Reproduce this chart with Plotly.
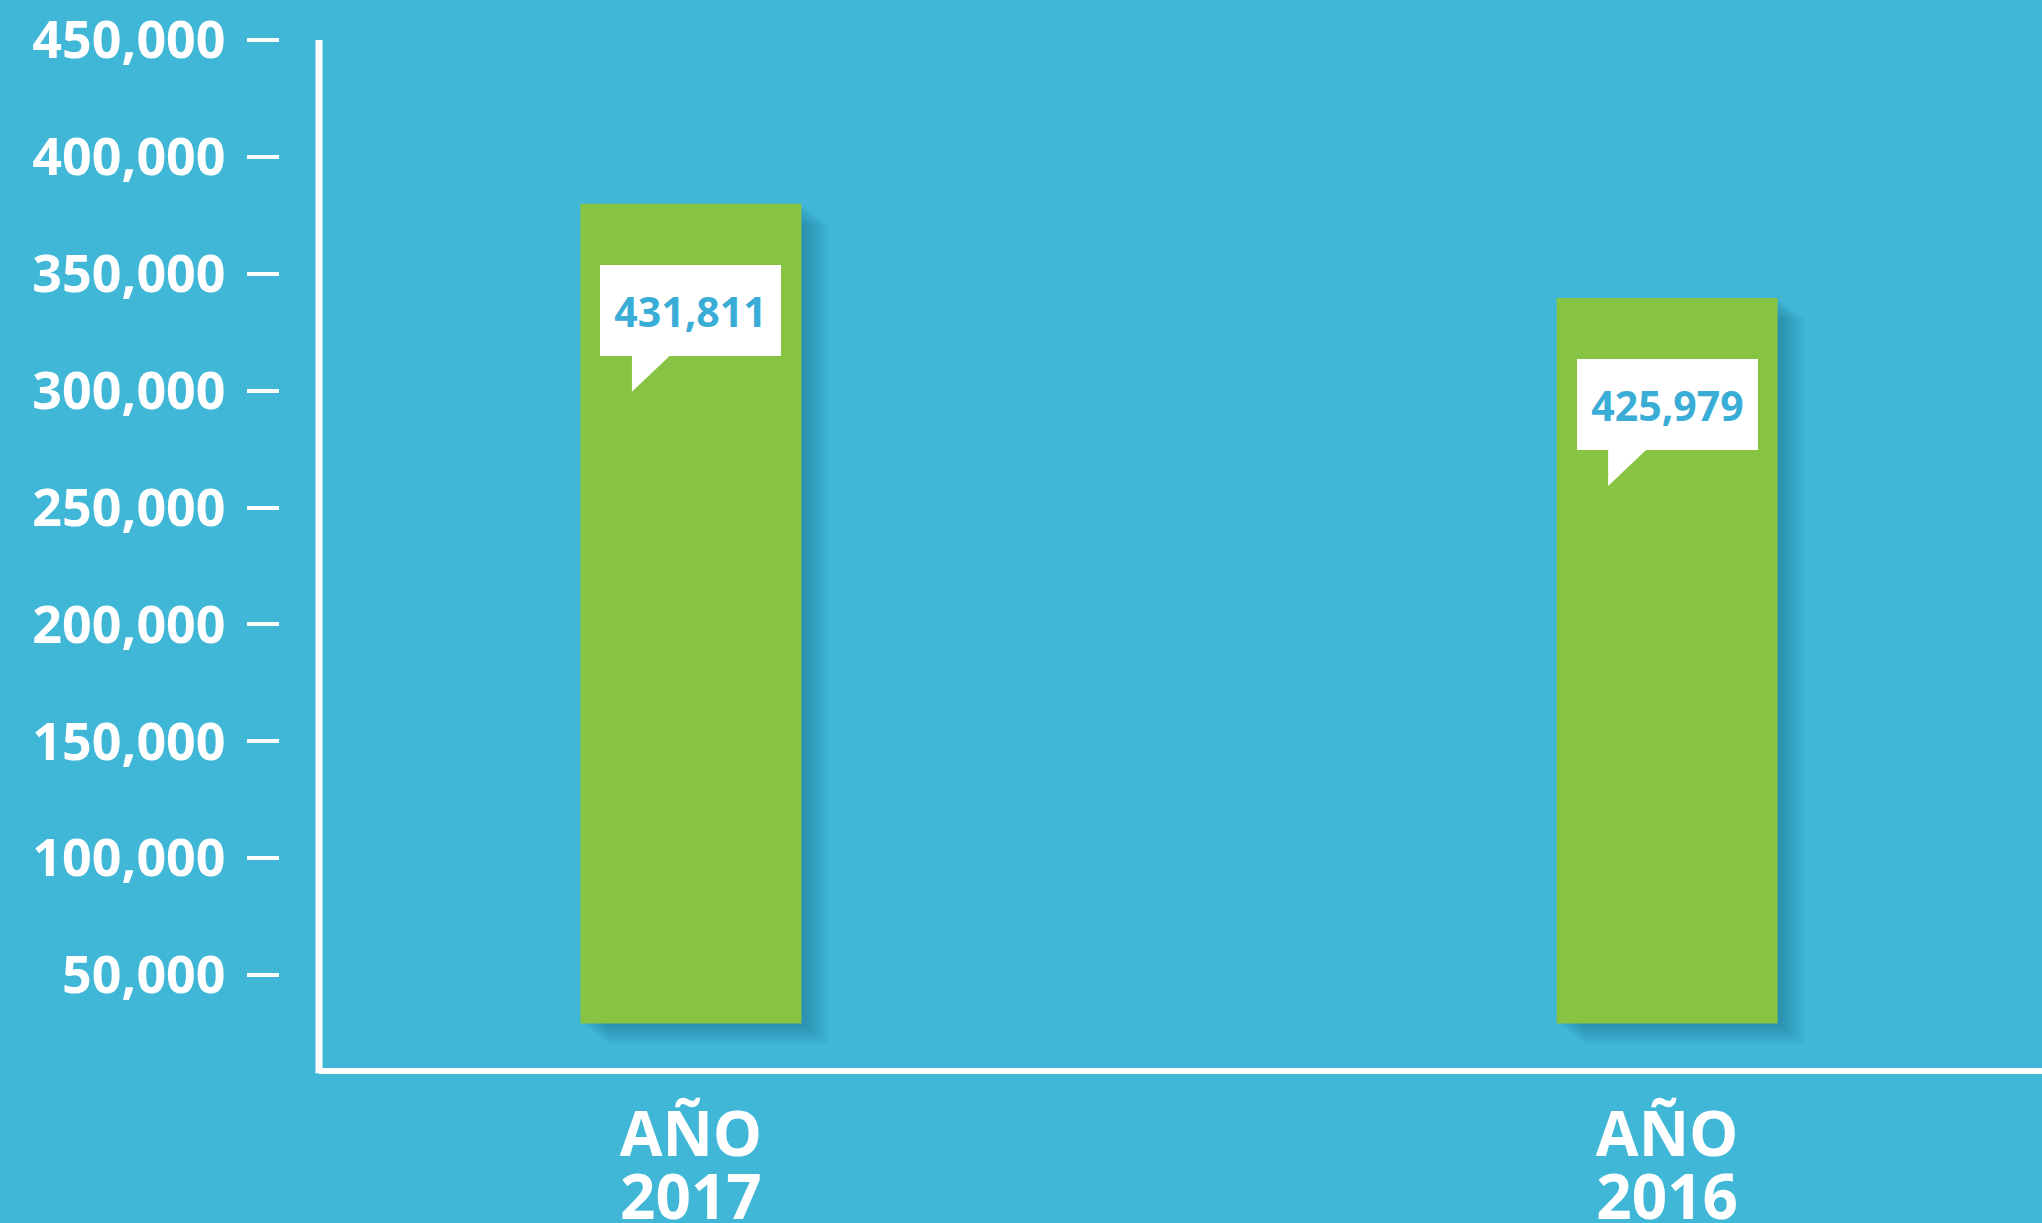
import plotly.graph_objects as go

# ---- data ----
years = ["2017", "2016"]
label_word = "AÑO"
reported_totals = [431811, 425979]          # numbers printed in the callouts
bar_tops = [380000, 339700]                 # where each bar ends on the drawn axis
bar_bases = [29300, 29300]                  # where each bar starts on the drawn axis
y_ticks = [50000, 100000, 150000, 200000, 250000, 300000, 350000, 400000, 450000]

# ---- styling ----
BG = "#41b7d7"
GREEN = "#87c443"
CALLOUT_TXT = "#3aadd6"
W, H = 2042, 1223
PLOT_LEFT = 319
PLOT_TOP, PLOT_BOTTOM = 40, 1068
X_RANGE = [-0.381, 1.384]
Y_RANGE = [10300, 450000]
PX_PER_X = (W - PLOT_LEFT) / (X_RANGE[1] - X_RANGE[0])
Y_PER_PX = (Y_RANGE[1] - Y_RANGE[0]) / (PLOT_BOTTOM - PLOT_TOP)
BAR_W = 221 / PX_PER_X

xpos = list(range(len(years)))

fig = go.Figure()

# soft drop shadow: translucent copies shifted right / down
for s in [3, 6, 9, 12, 15, 18, 21, 24, 27]:
    sy = s * 0.75
    fig.add_trace(go.Bar(
        x=xpos,
        base=[b - sy * Y_PER_PX for b in bar_bases],
        y=[t - b for t, b in zip(bar_tops, bar_bases)],
        width=[BAR_W] * len(years),
        offset=[-BAR_W / 2 + s / PX_PER_X] * len(years),
        marker=dict(color="rgba(10,50,80,0.035)", line=dict(width=0)),
        hoverinfo="skip", showlegend=False,
    ))

fig.add_trace(go.Bar(
    x=xpos,
    base=bar_bases,
    y=[t - b for t, b in zip(bar_tops, bar_bases)],
    width=[BAR_W] * len(years),
    offset=[-BAR_W / 2] * len(years),
    marker=dict(color=GREEN, line=dict(width=0)),
    showlegend=False,
))

# invisible trace so the second x axis (year line of the labels) is drawn
fig.add_trace(go.Scatter(x=xpos, y=[None] * len(years), xaxis="x2",
                         mode="markers", hoverinfo="skip", showlegend=False))

shapes = []
annotations = []
tail_path = "M -59,-150 L -19,-150 L -59,-188 Z"
for xi, top, val in zip(xpos, bar_tops, reported_totals):
    shapes.append(dict(
        type="path", xref="x", yref="y", xsizemode="pixel", ysizemode="pixel",
        xanchor=xi, yanchor=top, path=tail_path,
        fillcolor="white", line=dict(width=0), layer="above",
    ))
    annotations.append(dict(
        x=xi, y=top, xref="x", yref="y", text=f"{val:,}", showarrow=False,
        xanchor="center", yanchor="middle", yshift=-107, xshift=0,
        width=181, height=91, bgcolor="white", borderpad=0, borderwidth=0,
        align="center", valign="middle",
        font=dict(family="Open Sans", size=41, color=CALLOUT_TXT, weight="bold"),
    ))

# vertical axis line
shapes.append(dict(type="line", xref="x domain", yref="y domain",
                   x0=0, x1=0, y0=-0.005, y1=1,
                   line=dict(color="white", width=7), layer="above"))

label_font = dict(family="Open Sans", size=62, color="white", weight="bold")

fig.update_layout(
    width=W, height=H,
    paper_bgcolor=BG, plot_bgcolor=BG,
    margin=dict(l=0, r=0, t=PLOT_TOP, b=H - PLOT_BOTTOM),
    barmode="overlay",
    shapes=shapes, annotations=annotations,
    font=dict(family="Open Sans", color="white"),
    xaxis=dict(
        domain=[PLOT_LEFT / W, 1], range=X_RANGE, automargin=False,
        tickvals=xpos, ticktext=[label_word] * len(years),
        showline=True, linecolor="white", linewidth=6,
        showgrid=False, zeroline=False, ticks="",
        tickfont=label_font, ticklabelstandoff=8,
    ),
    xaxis2=dict(
        overlaying="x", matches="x", anchor="y", side="bottom",
        domain=[PLOT_LEFT / W, 1], range=X_RANGE, automargin=False,
        tickvals=xpos, ticktext=years,
        showline=False, showgrid=False, zeroline=False, ticks="",
        tickfont=label_font, ticklabelstandoff=88,
    ),
    yaxis=dict(
        range=Y_RANGE, anchor="free", position=279 / W, automargin=False,
        tickvals=y_ticks, tickformat=",",
        ticks="outside", ticklen=32, tickwidth=4, tickcolor="white",
        showline=False, showgrid=False, zeroline=False,
        tickfont=dict(family="Open Sans", size=52, color="white", weight="bold"),
        ticklabelstandoff=11,
    ),
)

fig.write_html(
    "out.html",
    config={"displayModeBar": False},
    post_script="document.body.style.margin='0';document.body.style.overflow='hidden';",
)
